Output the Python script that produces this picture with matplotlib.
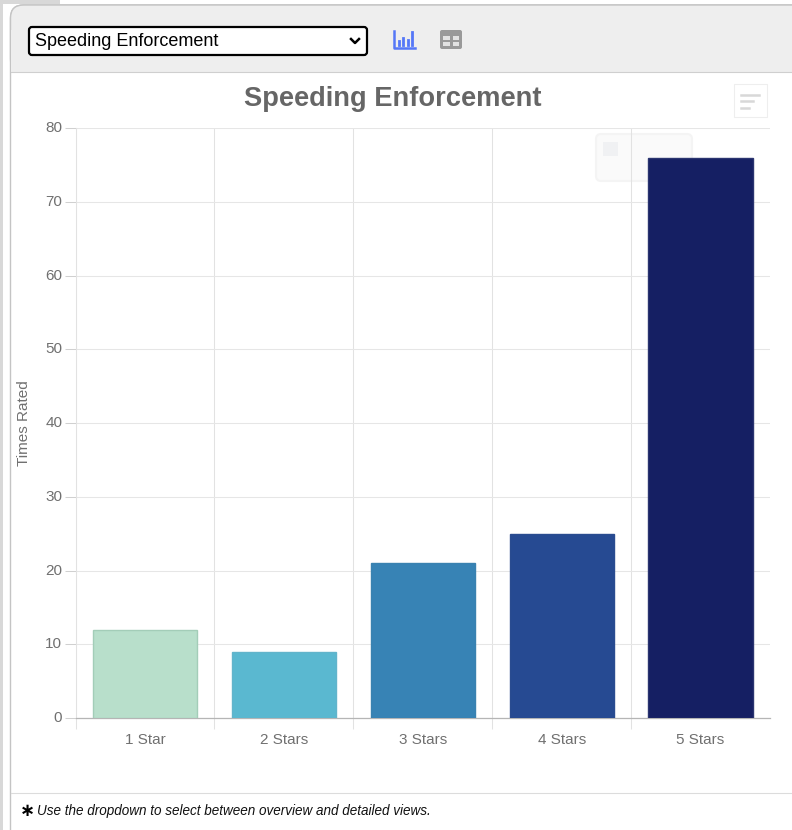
import matplotlib
matplotlib.use("Agg")
import matplotlib.pyplot as plt
from matplotlib.patches import FancyBboxPatch, Rectangle

plt.rcParams["font.family"] = ["Liberation Sans", "DejaVu Sans"]

categories = ["1 Star", "2 Stars", "3 Stars", "4 Stars", "5 Stars"]
times_rated = [12, 9, 21, 25, 76]
bar_colors = ["#b8dfcb", "#5ab8d0", "#3783b5", "#264a92", "#151f63"]
edge_colors = ["#a3cdb8", "#62b4cb", "#3a82b0", "#2a4c90", "#2b3570"]
y_ticks = [0, 10, 20, 30, 40, 50, 60, 70, 80]
title = "Speeding Enforcement"
note = "Use the dropdown to select between overview and detailed views."

W, H = 792, 830
fig = plt.figure(figsize=(W / 100, H / 100), dpi=100, facecolor="white")

# page chrome, drawn in pixel coordinates
ui = fig.add_axes([0, 0, 1, 1], zorder=0)
ui.set_xlim(0, W)
ui.set_ylim(H, 0)
ui.axis("off")
ui.add_patch(Rectangle((0, 0), 60, 4, fc="#d8d8d8", ec="none"))
ui.add_patch(Rectangle((0, 0), 3, H, fc="#d8d8d8", ec="none"))
ui.add_patch(FancyBboxPatch((10.5, 5), 900, 900, boxstyle="round,pad=0,rounding_size=13",
                            fc="white", ec="#c4c4c4", lw=1.0))
ui.add_patch(FancyBboxPatch((10.5, 5), 900, 67, boxstyle="round,pad=0,rounding_size=13",
                            fc="#eeeeee", ec="#c4c4c4", lw=1.0))
ui.add_patch(Rectangle((11, 30), 781, 42.5, fc="#eeeeee", ec="none"))
ui.plot([11, W], [72.5, 72.5], color="#cfcfcf", lw=0.8)
ui.plot([11, W], [792.5, 792.5], color="#dcdcdc", lw=0.8)

# dropdown
ui.add_patch(FancyBboxPatch((29, 27), 338, 28, boxstyle="round,pad=0,rounding_size=3",
                            fc="white", ec="black", lw=1.6))
ui.text(35, 41, title, fontsize=12.95, color="black", va="center", ha="left")
ui.plot([351, 355, 359], [39, 43, 39], color="black", lw=1.8)

# chart icon
ui.plot([393.5, 393.5, 414.5], [31, 48.5, 48.5], color="#5577f7", lw=1.8)
for x, top in zip([398.5, 403, 407.5, 412], [41, 38, 40, 32]):
    ui.plot([x, x], [45, top], color="#5577f7", lw=2.0)

# table icon
ui.add_patch(FancyBboxPatch((440, 30), 22, 19, boxstyle="round,pad=0,rounding_size=2",
                            fc="#999999", ec="none"))
for x, y in [(443, 36), (452.5, 36), (443, 42.5), (452.5, 42.5)]:
    ui.add_patch(Rectangle((x, y), 6.5, 4, fc="#e2e2e2", ec="none"))

# faded tooltip behind the last bar
ui.add_patch(FancyBboxPatch((596, 134), 96, 47, boxstyle="round,pad=0,rounding_size=5",
                            fc="#fafafa", ec="#f4f4f4", lw=1.5))
ui.add_patch(Rectangle((603, 142), 15, 14, fc="#f0f1f3", ec="none"))

# menu button
ui.add_patch(Rectangle((733.5, 84.5), 33, 33, fc="white", ec="#eeeeee", lw=0.8))
for x0, x1, y in [(741, 759, 95), (741, 753, 101.5), (741, 749, 108)]:
    ui.plot([x0, x1], [y, y], color="#d8d8d8", lw=1.8)

ui.text(392.5, 99.5, title, fontsize=19.6, fontweight="bold", color="#666666",
        ha="center", va="center")
ui.text(27, 811, "\u2217", fontsize=13, fontweight="bold", color="black",
        ha="center", va="center", family="DejaVu Sans")
ui.text(37, 811, note, fontsize=9.75, style="italic", color="#111111",
        ha="left", va="center")

# chart
ax = fig.add_axes([75.5 / W, 1 - 718 / H, (770 - 75.5) / W, (718 - 128) / H], zorder=1)
ax.patch.set_alpha(0)
x = list(range(len(categories)))
ax.bar(x, times_rated, width=0.75, color=bar_colors, edgecolor=edge_colors,
       linewidth=1.0, zorder=3)
ax.set_xlim(-0.5, 4.5)
ax.set_ylim(0, 80)
ax.set_yticks(y_ticks)
ax.set_xticks(x)
ax.set_xticklabels(categories)
ax.set_xticks([0.5, 1.5, 2.5, 3.5, -0.5], minor=True)
ax.grid(axis="y", color="#e6e6e6", lw=0.75, zorder=0)
ax.grid(axis="x", which="minor", color="#e2e2e2", lw=0.75, zorder=0)
ax.tick_params(axis="y", length=8, width=0.75, color="#d0d0d0", labelsize=11, labelcolor="#707070", pad=1.5)
ax.tick_params(axis="x", which="major", length=0, labelsize=11, labelcolor="#707070", pad=11)
ax.tick_params(axis="x", which="minor", length=8, width=0.75, color="#e2e2e2")
for label in ax.get_yticklabels():
    label.set_verticalalignment("center")
for side in ["top", "right"]:
    ax.spines[side].set_visible(False)
ax.spines["left"].set_color("#e2e2e2")
ax.spines["left"].set_linewidth(0.75)
ax.spines["bottom"].set_color("#b5b5b5")
ax.spines["bottom"].set_linewidth(0.9)
ui.text(24, 423, "Times Rated", fontsize=11, color="#707070", rotation=90,
        ha="center", va="center")

fig.savefig("out.png", dpi=100)
